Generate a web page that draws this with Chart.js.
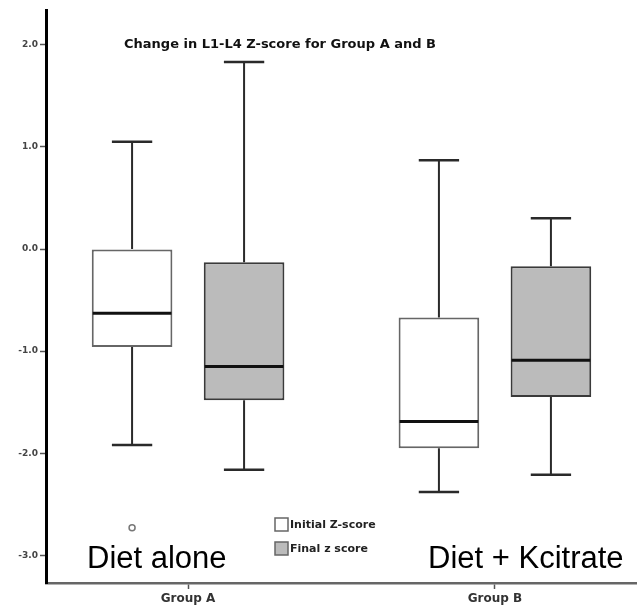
<!DOCTYPE html>
<html>
<head>
<meta charset="utf-8">
<script src="https://cdn.jsdelivr.net/npm/chart.js@4.4.0/dist/chart.umd.min.js"></script>
<style>
  html, body { margin: 0; padding: 0; background: #fff; }
  #wrap { width: 637px; height: 616px; }
</style>
</head>
<body>
<div id="wrap"><canvas id="boxChart"></canvas></div>
<script>
// Data (Z-score)
const groups = ['Group A', 'Group B'];
const groupPos = [1, 2];
const notes = ['Diet alone', 'Diet + Kcitrate'];
const yTicks = [-3, -2, -1, 0, 1, 2];

// min, q1, median, q3, max per group
const initialMin = [-1.92, -2.38];
const initialQ1 = [-0.96, -1.95];
const initialMed = [-0.63, -1.69];
const initialQ3 = [0.0, -0.67];
const initialMax = [1.05, 0.87];
const initialOutliers = [[-2.73], []];

const finalMin = [-2.16, -2.21];
const finalQ1 = [-1.48, -1.45];
const finalMed = [-1.15, -1.09];
const finalQ3 = [-0.13, -0.17];
const finalMax = [1.83, 0.30];
const finalOutliers = [[], []];

const FONT = '"Liberation Sans", Arial, sans-serif';
const SMALL_FONT = '"DejaVu Sans", Verdana, sans-serif';

function boxData(q1, q3) {
    return groupPos.map((x, i) => ({ x: x, y: [q1[i], q3[i]] }));
}

const stats = [
    { min: initialMin, med: initialMed, max: initialMax, q1: initialQ1, q3: initialQ3, out: initialOutliers },
    { min: finalMin, med: finalMed, max: finalMax, q1: finalQ1, q3: finalQ3, out: finalOutliers }
];

// whiskers, caps, medians, outliers, title, legend and notes
const boxPlugin = {
    id: 'boxPlugin',
    beforeDatasetsDraw(chart) {
        const ctx = chart.ctx;
        const y = chart.scales.y;
        ctx.save();
        stats.forEach((s, d) => {
            const meta = chart.getDatasetMeta(d);
            meta.data.forEach((bar, i) => {
                const cap = bar.width / 2;
                ctx.strokeStyle = '#2a2a2a';
                ctx.lineWidth = 2;
                ctx.beginPath();
                ctx.moveTo(bar.x, y.getPixelForValue(s.q3[i]));
                ctx.lineTo(bar.x, y.getPixelForValue(s.max[i]));
                ctx.moveTo(bar.x, y.getPixelForValue(s.q1[i]));
                ctx.lineTo(bar.x, y.getPixelForValue(s.min[i]));
                ctx.stroke();
                ctx.lineWidth = 2.5;
                ctx.beginPath();
                ctx.moveTo(bar.x - cap / 2, y.getPixelForValue(s.max[i]));
                ctx.lineTo(bar.x + cap / 2, y.getPixelForValue(s.max[i]));
                ctx.moveTo(bar.x - cap / 2, y.getPixelForValue(s.min[i]));
                ctx.lineTo(bar.x + cap / 2, y.getPixelForValue(s.min[i]));
                ctx.stroke();
            });
        });
        ctx.restore();
    },
    afterDatasetsDraw(chart) {
        const ctx = chart.ctx;
        const y = chart.scales.y;
        ctx.save();
        stats.forEach((s, d) => {
            const meta = chart.getDatasetMeta(d);
            meta.data.forEach((bar, i) => {
                const yy = y.getPixelForValue(s.med[i]);
                ctx.strokeStyle = '#111';
                ctx.lineWidth = 3;
                ctx.beginPath();
                ctx.moveTo(bar.x - bar.width / 2 + 1, yy);
                ctx.lineTo(bar.x + bar.width / 2 - 1, yy);
                ctx.stroke();
                s.out[i].forEach(v => {
                    ctx.strokeStyle = '#777';
                    ctx.lineWidth = 1.5;
                    ctx.beginPath();
                    ctx.arc(bar.x, y.getPixelForValue(v), 3, 0, Math.PI * 2);
                    ctx.stroke();
                });
            });
        });

        // title inside the plot
        ctx.fillStyle = '#111';
        ctx.font = 'bold 13px ' + SMALL_FONT;
        ctx.textBaseline = 'middle';
        ctx.textAlign = 'left';
        ctx.fillText('Change in L1-L4 Z-score for Group A and B', 124, 45);

        // legend
        const items = chart.data.datasets;
        items.forEach((ds, k) => {
            const top = 518 + k * 24;
            ctx.fillStyle = ds.backgroundColor;
            ctx.fillRect(275, top, 13, 13);
            ctx.strokeStyle = '#666';
            ctx.lineWidth = 1.5;
            ctx.strokeRect(275, top, 13, 13);
            ctx.fillStyle = '#222';
            ctx.font = 'bold 11px ' + SMALL_FONT;
            ctx.fillText(ds.label, 290, top + 7);
        });

        // group notes
        ctx.fillStyle = '#000';
        ctx.font = '31px ' + FONT;
        ctx.textBaseline = 'alphabetic';
        ctx.fillText(notes[0], 87, 568);
        ctx.fillText(notes[1], 428, 568);
        ctx.restore();
    }
};

new Chart(document.getElementById('boxChart'), {
    type: 'bar',
    data: {
        datasets: [{
            label: 'Initial Z-score',
            data: boxData(initialQ1, initialQ3),
            backgroundColor: '#ffffff',
            borderColor: '#666666',
            borderWidth: 2,
            borderSkipped: false
        }, {
            label: 'Final z score',
            data: boxData(finalQ1, finalQ3),
            backgroundColor: '#bbbbbb',
            borderColor: '#3a3a3a',
            borderWidth: 2,
            borderSkipped: false
        }]
    },
    options: {
        responsive: true,
        maintainAspectRatio: false,
        animation: false,
        categoryPercentage: 0.73,
        barPercentage: 0.72,
        layout: { padding: { top: 10, right: 0, left: 0, bottom: 0 } },
        plugins: {
            legend: { display: false },
            tooltip: { enabled: false }
        },
        scales: {
            x: {
                type: 'linear',
                offset: false,
                min: 0.537,
                max: 2.463,
                afterBuildTicks: (scale) => {
                    scale.ticks = groupPos.map(v => ({ value: v }));
                },
                afterFit: (scale) => { scale.height = 33; },
                border: { color: '#666', width: 2.5 },
                grid: { offset: false, drawOnChartArea: false, tickLength: 6, color: '#555', tickWidth: 1.5 },
                ticks: {
                    color: '#333',
                    font: { family: SMALL_FONT, size: 12, weight: 'bold' },
                    padding: 3,
                    callback: (v) => groups[groupPos.indexOf(v)] || ''
                }
            },
            y: {
                min: -3.27,
                max: 2.34,
                afterBuildTicks: (scale) => {
                    scale.ticks = yTicks.map(v => ({ value: v }));
                },
                afterFit: (scale) => { scale.width = 46; },
                border: { color: '#000', width: 3 },
                grid: { drawOnChartArea: false, tickLength: 6, color: '#555', tickWidth: 1.5 },
                ticks: {
                    color: '#444',
                    font: { family: SMALL_FONT, size: 9, weight: 'bold' },
                    padding: 2,
                    callback: (v) => v.toFixed(1)
                }
            }
        }
    },
    plugins: [boxPlugin]
});
</script>
</body>
</html>
